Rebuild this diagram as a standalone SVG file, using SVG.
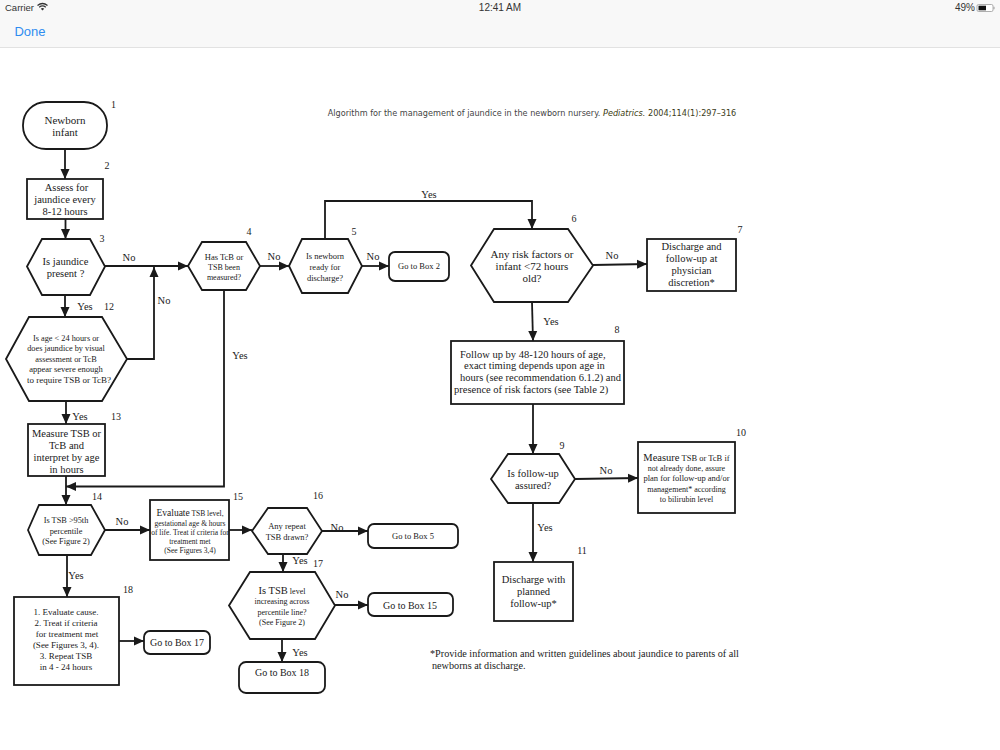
<svg xmlns="http://www.w3.org/2000/svg" width="1000" height="750" viewBox="0 0 1000 750">
<style>
text{font-family:"Liberation Serif","Times New Roman",serif;fill:#1a1a1a;text-anchor:middle}
.s{fill:#fff;stroke:#1a1a1a;stroke-width:1.800;stroke-linejoin:miter}
.c{fill:none;stroke:#1a1a1a;stroke-width:1.800;marker-end:url(#a)}
.n{font-size:10px;fill:#222}
.e{font-size:10.5px}
.t7{font-size:7.5px}.t8{font-size:8px}.t83{font-size:8.3px}.t85{font-size:8.5px}.t9{font-size:9px}.t95{font-size:9.5px}.t10{font-size:10px}.t102{font-size:10.2px}.t105{font-size:10.5px}.t11{font-size:11px}
.l{text-anchor:start}
.ui{font-family:"Liberation Sans",Arial,sans-serif;fill:#333;font-size:10px}
</style>
<defs>
<marker id="a" markerUnits="userSpaceOnUse" markerWidth="11" markerHeight="10" refX="10" refY="5" orient="auto">
<path d="M0 0.500L10 5L0 9.500Z" fill="#1a1a1a"/>
</marker>
</defs>
<rect width="1000" height="750" fill="#fff"/>
<g id="statusbar">
<rect width="1000" height="47" fill="#f8f8f8"/>
<rect y="47" width="1000" height="1" fill="#e2e2e2"/>
<text class="ui l" x="5" y="11" style="font-size:9.500px">Carrier</text>
<path d="M37.500 5.500Q42.500 1.500 47.500 5.500M39.200 7.200Q42.500 4.600 45.800 7.200" fill="none" stroke="#333" stroke-width="1.300"/>
<path d="M40.800 8.700Q42.500 7.400 44.200 8.700L42.500 10.600Z" fill="#333"/>
<text class="ui" x="500" y="11">12:41 AM</text>
<text class="ui l" x="955" y="11">49%</text>
<rect x="977" y="4.500" width="16" height="7" rx="1.500" fill="#fff" stroke="#999" stroke-width="0.800"/>
<rect x="978.500" y="5.700" width="7.500" height="4.600" fill="#111"/>
<rect x="993.500" y="6.800" width="1" height="2.400" fill="#999"/>
<text x="30" y="36" style="font-family:'Liberation Sans',Arial,sans-serif;font-size:13px;fill:#2f8cf0">Done</text>
</g>
<text x="532" y="116" style="font-family:'DejaVu Sans',sans-serif;font-size:8.150px;fill:#444">Algorithm for the management of jaundice in the newborn nursery. <tspan font-style="italic" fill="#3c3c10">Pediatrics.</tspan> <tspan fill="#3c3c20">2004;114(1):297–316</tspan></text>
<g id="connectors">
<path class="c" d="M65 149V179"/>
<path class="c" d="M65.500 219V239"/>
<path class="c" d="M105 266H188"/>
<path class="c" d="M127 359H154V267"/>
<path class="c" d="M65 295V317"/>
<path class="c" d="M224 290V486.500H66"/>
<path class="c" d="M260 266H289"/>
<path class="c" d="M325 239V201H532V229"/>
<path class="c" d="M362 266H389"/>
<path class="c" d="M593 265L647 264"/>
<path class="c" d="M532 302L533 341"/>
<path class="c" d="M533 404V454"/>
<path class="c" d="M575 479L638 478"/>
<path class="c" d="M533 503V562"/>
<path class="c" d="M66 401V424"/>
<path class="c" d="M66 476V505"/>
<path class="c" d="M105 530H150"/>
<path class="c" d="M229 530H252"/>
<path class="c" d="M322 531H368"/>
<path class="c" d="M283 554V572"/>
<path class="c" d="M335 605H368"/>
<path class="c" d="M282 639V662"/>
<path class="c" d="M67 555V597"/>
<path class="c" d="M119 641H144"/>
</g>
<g id="edge-labels">
<text class="e" x="129" y="261">No</text>
<text class="e" x="274" y="260">No</text>
<text class="e" x="373" y="260">No</text>
<text class="e" x="429" y="198">Yes</text>
<text class="e" x="612" y="259">No</text>
<text class="e" x="551" y="325">Yes</text>
<text class="e" x="85" y="310">Yes</text>
<text class="e" x="164" y="304">No</text>
<text class="e" x="240" y="359">Yes</text>
<text class="e" x="80" y="420">Yes</text>
<text class="e" x="122" y="525">No</text>
<text class="e" x="76" y="579">Yes</text>
<text class="e" x="337" y="531">No</text>
<text class="e" x="300" y="564">Yes</text>
<text class="e" x="342" y="598">No</text>
<text class="e" x="300" y="656">Yes</text>
<text class="e" x="606" y="474">No</text>
<text class="e" x="545" y="531">Yes</text>
</g>
<g id="n1"><rect class="s" x="23" y="102" width="84" height="47" rx="23" ry="23"/><text class="n" x="113.500" y="108">1</text><text class="t11" x="65" y="124">Newborn</text><text class="t11" x="65" y="136">infant</text></g>
<g id="n2"><rect class="s" x="27" y="179" width="76" height="40"/><text class="n" x="107" y="169">2</text><text class="t105" x="66.500" y="191">Assess for</text><text class="t105" x="65" y="203">jaundice every</text><text class="t105" x="65" y="215">8-12 hours</text></g>
<g id="n3"><path class="s" d="M27 266.500L42 239H90L105 266.500L90 295H42Z"/><text class="n" x="102" y="242">3</text><text class="t105" x="65.500" y="265">Is jaundice</text><text class="t105" x="65.500" y="277">present ?</text></g>
<g id="n4"><path class="s" d="M188 266L202 242H246L260 266L246 290H202Z"/><text class="n" x="249" y="235">4</text><text class="t85" x="224" y="260">Has TcB or</text><text class="t8" x="224" y="270">TSB been</text><text class="t8" x="224" y="280">measured?</text></g>
<g id="n5"><path class="s" d="M289 266L302 239H348L362 266L348 293H302Z"/><text class="n" x="354" y="235">5</text><text class="t85" x="325" y="259">Is newborn</text><text class="t85" x="325" y="270">ready for</text><text class="t85" x="325" y="281">discharge?</text></g>
<g id="goto2"><rect class="s" x="389" y="252" width="60" height="29" rx="6"/><text class="t85" x="419" y="269">Go to Box 2</text></g>
<g id="n6"><path class="s" d="M471 265.500L494 229H568L593 265.500L568 302H494Z"/><text class="n" x="574" y="222">6</text><text class="t11" x="532" y="258">Any risk factors or</text><text class="t11" x="532" y="270">infant &lt;72 hours</text><text class="t11" x="532" y="282">old?</text></g>
<g id="n7"><rect class="s" x="647" y="239" width="89" height="52"/><text class="n" x="740" y="233">7</text><text class="t105" x="691.500" y="250">Discharge and</text><text class="t105" x="691.500" y="262">follow-up at</text><text class="t105" x="691.500" y="274">physician</text><text class="t105" x="691.500" y="286">discretion*</text></g>
<g id="n8"><rect class="s" x="451" y="341" width="173" height="63"/><text class="n" x="617" y="333">8</text><text class="t105 l" x="460" y="358">Follow up by 48-120 hours of age,</text><text class="t105 l" x="464" y="369">exact timing depends upon age in</text><text class="t105 l" x="460" y="381">hours (see recommendation 6.1.2) and</text><text class="t105 l" x="454" y="393">presence of risk factors (see Table 2)</text></g>
<g id="n9"><path class="s" d="M491 479L508 454H559L575 479L559 503H508Z"/><text class="n" x="562" y="449">9</text><text class="t105" x="533" y="477">Is follow-up</text><text class="t105" x="533" y="489">assured?</text></g>
<g id="n10"><rect class="s" x="638" y="442" width="97" height="71"/><text class="n" x="741" y="436">10</text><text class="t85" x="686.500" y="461"><tspan class="t105">Measure</tspan> TSB or TcB if</text><text class="t8" x="686.500" y="471">not already done, assure</text><text class="t85" x="686.500" y="481">plan for follow-up and/or</text><text class="t8" x="686.500" y="492">management* according</text><text class="t8" x="686.500" y="502">to bilirubin level</text></g>
<g id="n11"><rect class="s" x="494" y="562" width="79" height="59"/><text class="n" x="582" y="554">11</text><text class="t105" x="533.500" y="583">Discharge with</text><text class="t105" x="533.500" y="595">planned</text><text class="t105" x="533.500" y="607">follow-up*</text></g>
<g id="n12"><path class="s" d="M6 359L29 317H102L127 359L102 401H29Z"/><text class="n" x="109" y="310">12</text><text class="t83" x="66" y="341">Is age &lt; 24 hours or</text><text class="t83" x="66" y="351">does jaundice by visual</text><text class="t83" x="66" y="362">assessment or TcB</text><text class="t85" x="66" y="372">appear severe enough</text><text class="t9" x="69" y="383">to require TSB or TcB?</text></g>
<g id="n13"><rect class="s" x="28" y="424" width="77" height="52"/><text class="n" x="116" y="420">13</text><text class="t105" x="66.500" y="437">Measure TSB or</text><text class="t105" x="66.500" y="449">TcB and</text><text class="t105" x="66.500" y="461">interpret by age</text><text class="t105" x="66.500" y="473">in hours</text></g>
<g id="n14"><path class="s" d="M28 530L39 505H91L105 530L91 555H39Z"/><text class="n" x="97" y="500">14</text><text class="t83" x="66" y="523">Is TSB &gt;95th</text><text class="t83" x="66" y="534">percentile</text><text class="t83" x="66" y="544">(See Figure 2)</text></g>
<g id="n15"><rect class="s" x="150" y="500" width="79" height="60"/><text class="n" x="238" y="500">15</text><text class="t7" x="190" y="516"><tspan class="t95">Evaluate</tspan> TSB level,</text><text class="t7" x="190" y="526">gestational age &amp; hours</text><text class="t7" x="190" y="535">of life. Treat if criteria for</text><text class="t7" x="190" y="544">treatment met</text><text class="t7" x="190" y="553">(See Figures 3,4)</text></g>
<g id="n16"><path class="s" d="M252 531L268 508H307L322 531L307 554H268Z"/><text class="n" x="318" y="499">16</text><text class="t85" x="287" y="529">Any repeat</text><text class="t85" x="287" y="540">TSB drawn?</text></g>
<g id="goto5"><rect class="s" x="368" y="524" width="90" height="24" rx="6"/><text class="t85" x="413" y="539">Go to Box 5</text></g>
<g id="n17"><path class="s" d="M229 605.500L250 572H315L335 605.500L315 639H250Z"/><text class="n" x="318" y="567">17</text><text class="t8" x="282" y="594"><tspan class="t105">Is TSB</tspan> level</text><text class="t8" x="282" y="604">increasing across</text><text class="t8" x="282" y="615">percentile line?</text><text class="t8" x="282" y="625">(See Figure 2)</text></g>
<g id="goto15"><rect class="s" x="368" y="593" width="85" height="23" rx="6"/><text class="t10" x="410" y="609">Go to Box 15</text></g>
<g id="goto18"><rect class="s" x="239" y="662" width="86" height="31" rx="7"/><text class="t10" x="282" y="676">Go to Box 18</text></g>
<g id="n18"><rect class="s" x="14" y="597" width="105" height="88"/><text class="n" x="128" y="593">18</text><text class="t9" x="66" y="615">1. Evaluate cause.</text><text class="t9" x="66" y="626">2. Treat if criteria</text><text class="t9" x="67" y="637">for treatment met</text><text class="t9" x="66" y="648">(See Figures 3, 4).</text><text class="t9" x="66" y="659">3. Repeat TSB</text><text class="t9" x="66" y="670">in 4 - 24 hours</text></g>
<g id="goto17"><rect class="s" x="144" y="631" width="66" height="23" rx="6"/><text class="t10" x="177" y="646">Go to Box 17</text></g>
<g id="footnote"><text class="t102 l" x="430" y="657">*Provide information and written guidelines about jaundice to parents of all</text><text class="t102 l" x="432" y="669">newborns at discharge.</text></g>
</svg>
